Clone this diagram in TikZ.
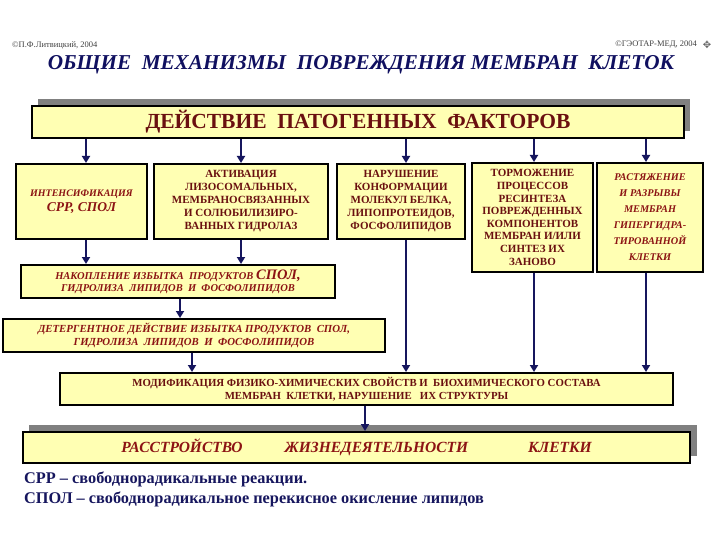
\documentclass[tikz,border=0pt]{standalone}
\usepackage{fontspec}
\setmainfont{Liberation Serif}
\newfontfamily\symfont{DejaVu Sans}
\usetikzlibrary{arrows.meta,calc}
\definecolor{boxfill}{HTML}{FFFFB3}
\definecolor{redtxt}{HTML}{8C1414}
\definecolor{darktxt}{HTML}{6A1010}
\definecolor{navy}{HTML}{16165E}
\definecolor{shadowgray}{HTML}{808080}
\definecolor{titlenavy}{HTML}{101060}
\begin{document}
\begin{tikzpicture}[x=1pt,y=-1pt,
  box/.style={draw=black,line width=2pt,fill=boxfill,inner sep=0pt,align=center,text=darktxt,font=\bfseries\fontsize{11}{13}\selectfont},
  ibox/.style={box,text=redtxt,font=\bfseries\itshape\fontsize{10}{12}\selectfont},
  arr/.style={draw=navy,line width=2.2pt,-{Triangle[length=7pt,width=8pt]}},
  small/.style={inner sep=0pt,text=black!75,font=\fontsize{8.5}{9}\selectfont}]
\useasboundingbox (0,0) rectangle (720,540);
\fill[white] (0,0) rectangle (720,540);

% header
\node[small,anchor=west] (cp1) at (12,45) {©П.Ф.Литвицкий, 2004};
\node[small,anchor=east] (cp2) at (697,45) {©ГЭОТАР-МЕД, 2004};
\node[inner sep=0pt,text=black!60,font=\symfont\fontsize{10}{10}\selectfont] (orn) at (707,45) {✥};
\node[inner sep=0pt,text=titlenavy,font=\bfseries\itshape\fontsize{21.2}{24}\selectfont] (title) at (361,65)
  {ОБЩИЕ\ \ МЕХАНИЗМЫ\ \ ПОВРЕЖДЕНИЯ МЕМБРАН\ \ КЛЕТОК};

% shadows
\fill[shadowgray] (38,99) rectangle (690,131);
\fill[shadowgray] (29,425) rectangle (697,456);

% top box
\node[box,minimum width=652pt,minimum height=32pt,font=\bfseries\fontsize{21.5}{24}\selectfont] (top) at (358,122)
  {ДЕЙСТВИЕ\ \ ПАТОГЕННЫХ\ \ ФАКТОРОВ};

% level 2
\node[ibox,minimum width=131pt,minimum height=75pt] (b1) at (81.5,201.5)
  {ИНТЕНСИФИКАЦИЯ\\[3pt]{\fontsize{13.5}{16}\selectfont СРР, СПОЛ}};
\node[box,minimum width=174pt,minimum height=75pt] (b2) at (241,201.5)
  {АКТИВАЦИЯ\\ЛИЗОСОМАЛЬНЫХ,\\МЕМБРАНОСВЯЗАННЫХ\\И СОЛЮБИЛИЗИРО-\\ВАННЫХ ГИДРОЛАЗ};
\node[box,minimum width=128pt,minimum height=75pt] (b3) at (401,201.5)
  {НАРУШЕНИЕ\\КОНФОРМАЦИИ\\МОЛЕКУЛ БЕЛКА,\\ЛИПОПРОТЕИДОВ,\\ФОСФОЛИПИДОВ};
\node[box,minimum width=121pt,minimum height=109pt,font=\bfseries\fontsize{11}{12.6}\selectfont] (b4) at (532.5,217.5)
  {ТОРМОЖЕНИЕ\\ПРОЦЕССОВ\\РЕСИНТЕЗА\\ПОВРЕЖДЕННЫХ\\КОМПОНЕНТОВ\\МЕМБРАН И/ИЛИ\\СИНТЕЗ ИХ\\ЗАНОВО};
\node[ibox,minimum width=106pt,minimum height=109pt,font=\bfseries\itshape\fontsize{10.3}{16}\selectfont] (b5) at (650,217.5)
  {РАСТЯЖЕНИЕ\\И РАЗРЫВЫ\\МЕМБРАН\\ГИПЕРГИДРА-\\ТИРОВАННОЙ\\КЛЕТКИ};

% chain
\node[ibox,minimum width=314pt,minimum height=33pt,font=\bfseries\itshape\fontsize{10.5}{12}\selectfont] (nak) at (178,281.5)
  {НАКОПЛЕНИЕ ИЗБЫТКА\ \ ПРОДУКТОВ {\fontsize{14.5}{12}\selectfont СПОЛ,}\\ГИДРОЛИЗА\ \ ЛИПИДОВ\ \ И\ \ ФОСФОЛИПИДОВ};
\node[ibox,minimum width=382pt,minimum height=33pt,font=\bfseries\itshape\fontsize{10.8}{13}\selectfont] (det) at (194,335.5)
  {ДЕТЕРГЕНТНОЕ ДЕЙСТВИЕ ИЗБЫТКА ПРОДУКТОВ\ \ СПОЛ,\\ГИДРОЛИЗА\ \ ЛИПИДОВ\ \ И\ \ ФОСФОЛИПИДОВ};
\node[box,minimum width=613pt,minimum height=32pt,font=\bfseries\fontsize{10.8}{13}\selectfont] (mod) at (366.5,389)
  {МОДИФИКАЦИЯ ФИЗИКО-ХИМИЧЕСКИХ СВОЙСТВ И\ \ БИОХИМИЧЕСКОГО СОСТАВА\\МЕМБРАН\ \ КЛЕТКИ, НАРУШЕНИЕ\ \ \ ИХ СТРУКТУРЫ};
\node[ibox,minimum width=667pt,minimum height=31pt,font=\bfseries\itshape\fontsize{15.5}{18}\selectfont] (bot) at (356.5,447.5)
  {РАССТРОЙСТВО\hspace{42pt}ЖИЗНЕДЕЯТЕЛЬНОСТИ\hspace{60pt}КЛЕТКИ};

% legend
\node[anchor=base west,inner sep=0pt,text=navy,font=\bfseries\fontsize{16.3}{18}\selectfont] (leg1) at (24,483)
  {СРР – свободнорадикальные реакции.};
\node[anchor=base west,inner sep=0pt,text=navy,font=\bfseries\fontsize{16.3}{18}\selectfont] (leg2) at (24,503)
  {СПОЛ – свободнорадикальное перекисное окисление липидов};

% arrows from top
\draw[arr] ($(b1.north |- top.south)+(4.5,0)$) -- ($(b1.north)+(4.5,0)$);
\draw[arr] (b2.north |- top.south) -- (b2.north);
\draw[arr] ($(b3.north |- top.south)+(5,0)$) -- ($(b3.north)+(5,0)$);
\draw[arr] ($(b4.north |- top.south)+(1.5,0)$) -- ($(b4.north)+(1.5,0)$);
\draw[arr] ($(b5.north |- top.south)+(-4,0)$) -- ($(b5.north)+(-4,0)$);
% to nak
\draw[arr] ($(b1.south)+(4.5,0)$) -- ($(b1.south |- nak.north)+(4.5,0)$);
\draw[arr] (b2.south) -- (b2.south |- nak.north);
% chain
\draw[arr] ($(nak.south)+(2,0)$) -- ($(nak.south |- det.north)+(2,0)$);
\draw[arr] ($(det.south)+(-2,0)$) -- ($(det.south |- mod.north)+(-2,0)$);
\draw[arr] ($(b3.south)+(5,0)$) -- ($(b3.south |- mod.north)+(5,0)$);
\draw[arr] ($(b4.south)+(1.5,0)$) -- ($(b4.south |- mod.north)+(1.5,0)$);
\draw[arr] ($(b5.south)+(-4,0)$) -- ($(b5.south |- mod.north)+(-4,0)$);
\draw[arr] ($(mod.south)+(-1.5,0)$) -- ($(mod.south |- bot.north)+(-1.5,0)$);
\end{tikzpicture}
\end{document}
